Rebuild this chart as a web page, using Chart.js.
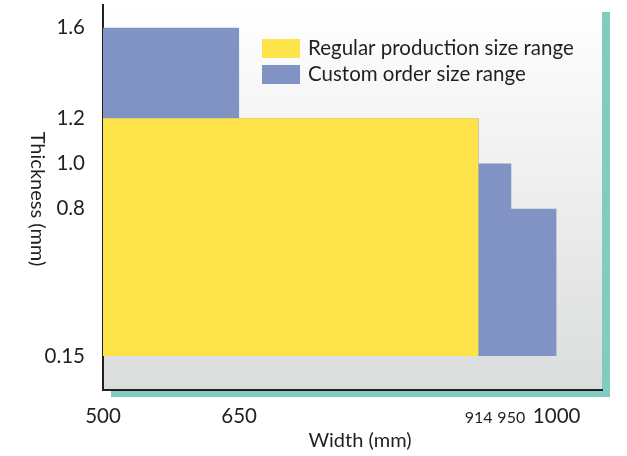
<!DOCTYPE html>
<html><head><meta charset="utf-8">
<script src="https://cdn.jsdelivr.net/npm/chart.js@4/dist/chart.umd.min.js"></script>
<style>html,body{margin:0;padding:0;background:#fff}#wrap{width:627px;height:456px;position:relative}</style>
</head><body><div id="wrap"><canvas id="c" width="627" height="456"></canvas></div>
<script>
// ---- data ----
const xTickValues = [500, 650, 914, 950, 1000];
const yTickValues = [0.15, 0.8, 1.0, 1.2, 1.6];
const seriesNames = ['Regular production size range', 'Custom order size range'];
const regularWidth = [500, 914];
const regularThickness = [1.2, 1.2];
const customWidth = [500, 650, 650, 914, 914, 950, 950, 1000];
const customThickness = [1.6, 1.6, 1.2, 1.2, 1.0, 1.0, 0.8, 0.8];
const minThickness = 0.15;
const axisTitles = {x: 'Width (mm)', y: 'Thickness (mm)'};

const FONT = 'Lato, "Open Sans", sans-serif';
const TXT = '#231f20';
const YELLOW = '#fee34a';
const BLUE = '#8093c4';
const TEAL = '#80ccc0';

const pts = (xs, ys) => xs.map((x, i) => ({x, y: ys[i]}));

const bgPlugin = {
  id: 'bg',
  beforeDraw(chart) {
    const {ctx, chartArea: a} = chart;
    ctx.save();
    ctx.fillStyle = TEAL;
    ctx.fillRect(a.left + 8, a.top + 7, a.right - a.left, a.bottom - a.top);
    const g = ctx.createLinearGradient(0, a.top, 0, a.bottom);
    g.addColorStop(0, '#ffffff');
    g.addColorStop(1, '#dbdcdc');
    ctx.fillStyle = g;
    ctx.fillRect(a.left, a.top, a.right - a.left, a.bottom - a.top);
    ctx.restore();
  },
  afterDraw(chart) {
    const {ctx} = chart;
    ctx.save();
    // legend
    const cols = [YELLOW, BLUE];
    ctx.font = '20.5px ' + FONT;
    ctx.textBaseline = 'middle';
    ctx.textAlign = 'left';
    chart.data.datasets.forEach((ds, i) => {
      const y = 39 + i * 26;
      ctx.fillStyle = cols[i];
      ctx.fillRect(262, y, 38, 19);
      ctx.fillStyle = TXT;
      ctx.fillText(ds.label, 308, y + 9);
    });
    // axis titles
    ctx.font = '20px ' + FONT;
    ctx.textAlign = 'center';
    ctx.fillText(axisTitles.x, 360, 441);
    ctx.translate(37, 199);
    ctx.rotate(Math.PI / 2);
    ctx.fillText(axisTitles.y, 0, 0);
    ctx.restore();
  }
};

new Chart(document.getElementById('c'), {
  type: 'line',
  data: {
    datasets: [
      {label: seriesNames[0], data: pts(regularWidth, regularThickness), backgroundColor: YELLOW,
       borderColor: 'rgba(0,0,0,0)', borderWidth: 0, pointRadius: 0, fill: {value: minThickness}, tension: 0},
      {label: seriesNames[1], data: pts(customWidth, customThickness), backgroundColor: BLUE,
       borderColor: 'rgba(0,0,0,0)', borderWidth: 0, pointRadius: 0, fill: {value: minThickness}, tension: 0}
    ]
  },
  options: {
    responsive: false,
    animation: false,
    events: [],
    layout: {padding: {left: 0, right: 25, top: 5, bottom: 0}},
    plugins: {legend: {display: false}, tooltip: {enabled: false}, title: {display: false}},
    scales: {
      x: {
        type: 'linear', min: 500, max: 1050,
        grid: {display: false},
        border: {display: true, color: TXT, width: 2},
        afterBuildTicks: s => { s.ticks = xTickValues.map(v => ({value: v})); },
        afterFit: s => { s.height = 66; s.paddingLeft = 0; s.paddingRight = 0; },
        ticks: {
          autoSkip: false, maxRotation: 0, padding: 6, color: TXT,
          font: c => (c.tick && (c.tick.value === 914 || c.tick.value === 950))
            ? {family: FONT, size: 16, lineHeight: 1.75}
            : {family: FONT, size: 20.5, lineHeight: 1.2},
          callback: v => String(v)
        }
      },
      y: {
        type: 'linear', min: 0, max: 1.7,
        grid: {display: false},
        border: {display: true, color: TXT, width: 2},
        afterBuildTicks: s => { s.ticks = yTickValues.map(v => ({value: v})); },
        afterFit: s => { s.width = 103; s.paddingTop = 0; s.paddingBottom = 0; },
        ticks: {
          autoSkip: false, padding: 10, color: TXT, font: {family: FONT, size: 20.5},
          callback: v => (v === 0.15 ? '0.15' : Number(v).toFixed(1))
        }
      }
    }
  },
  plugins: [bgPlugin]
});
</script>
</body></html>
